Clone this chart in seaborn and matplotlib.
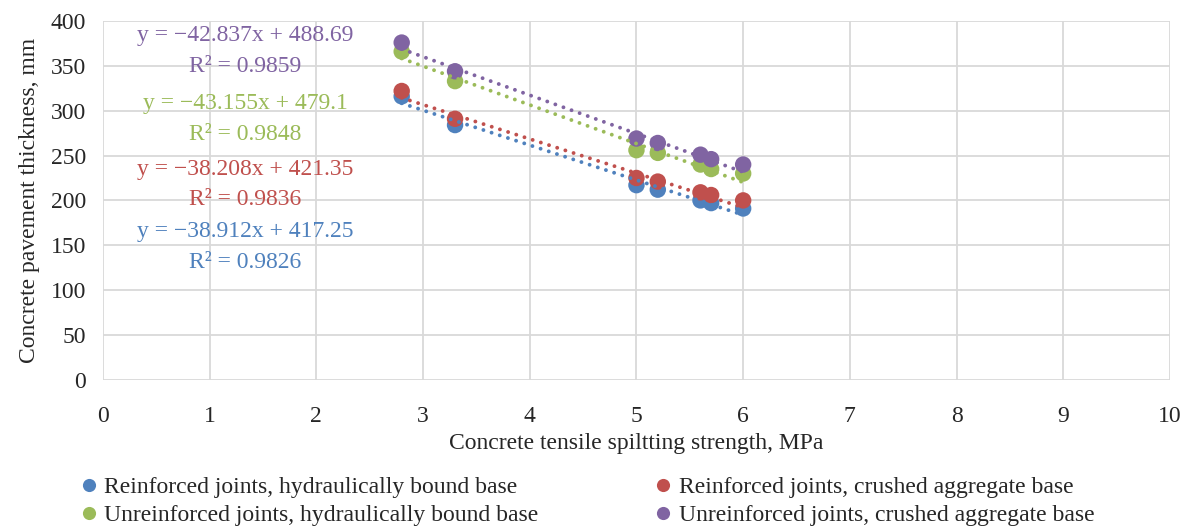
import numpy as np
import pandas as pd
import matplotlib
matplotlib.use("Agg")
import matplotlib.pyplot as plt
import seaborn as sns

# data
strength = [2.8, 3.3, 5.0, 5.2, 5.6, 5.7, 6.0]
series_names = [
    "Reinforced joints, hydraulically bound base",
    "Reinforced joints, crushed aggregate base",
    "Unreinforced joints, hydraulically bound base",
    "Unreinforced joints, crushed aggregate base",
]
reinf_hydr = [316, 284, 217, 212, 200, 197, 191]
reinf_crush = [322, 291, 225, 221, 209, 206, 200]
unreinf_hydr = [366, 333, 256, 253, 240, 235, 230]
unreinf_crush = [376, 344, 269, 264, 251, 246, 240]

# trendline coefficients from the labels (slope, intercept, R2)
slopes = [-38.912, -38.208, -43.155, -42.837]
intercepts = [417.25, 421.35, 479.1, 488.69]
r2 = [0.9826, 0.9836, 0.9848, 0.9859]

colors = ["#4F81BD", "#C0504D", "#9BBB59", "#8064A2"]

df = pd.DataFrame({
    "x": strength * 4,
    "y": reinf_hydr + reinf_crush + unreinf_hydr + unreinf_crush,
    "series": [n for n in series_names for _ in strength],
})

sns.set_style("white")
plt.rcParams['font.family'] = ['Liberation Serif', 'DejaVu Serif']
FS = 17

fig, ax = plt.subplots(figsize=(11.83, 5.26), dpi=100)
fig.subplots_adjust(left=0.087, right=0.989, top=0.96, bottom=0.278)

sns.scatterplot(data=df, x="x", y="y", hue="series", palette=colors,
                s=140, linewidth=0, ax=ax, zorder=3)

xs = np.array([min(strength), max(strength)])
for m, b, c in zip(slopes, intercepts, colors):
    ax.plot(xs, m * xs + b, color=c, linestyle=(0, (0.01, 2.2)), linewidth=2.8,
            zorder=4, dash_capstyle='round')

ax.set_xlim(0, 10)
ax.set_ylim(0, 400)
ax.set_xticks(range(0, 11))
ax.set_yticks(range(0, 401, 50))
ax.grid(True, color="#d9d9d9", linewidth=1.3)
for s in ax.spines.values():
    s.set_visible(False)
ax.tick_params(labelsize=FS, length=0)
ax.tick_params(axis="x", pad=19)
ax.tick_params(axis="y", pad=12)
ax.set_xlabel("Concrete tensile spiltting strength, MPa", fontsize=FS, labelpad=4)
ax.set_ylabel("Concrete pavement thickness, mm", fontsize=FS, labelpad=8)

# equation labels, top to bottom: purple, green, red, blue
label_y = [[232, 263], [169, 200], [103, 134], [36, 67]]
for i in [3, 2, 1, 0]:
    eq = f"y = \u2212{abs(slopes[i]):g}x + {intercepts[i]:g}"
    rr = f"R\u00b2 = {r2[i]:g}"
    for txt, py in zip([eq, rr], label_y[i]):
        fig.text(245 / 1183, 1 - py / 526, txt, color=colors[i], fontsize=FS,
                 ha="center", va="center")

handles, labels = ax.get_legend_handles_labels()
order = [0, 2, 1, 3]
ax.legend_.remove()
fig.legend([handles[k] for k in order], [labels[k] for k in order],
           loc="lower center", ncol=2, frameon=False,
           fontsize=FS, bbox_to_anchor=(0.497, -0.04), columnspacing=5.0,
           handlelength=0.6, handletextpad=0.35, labelspacing=0.25,
           markerscale=0.8)

fig.savefig("out.png", dpi=100)
